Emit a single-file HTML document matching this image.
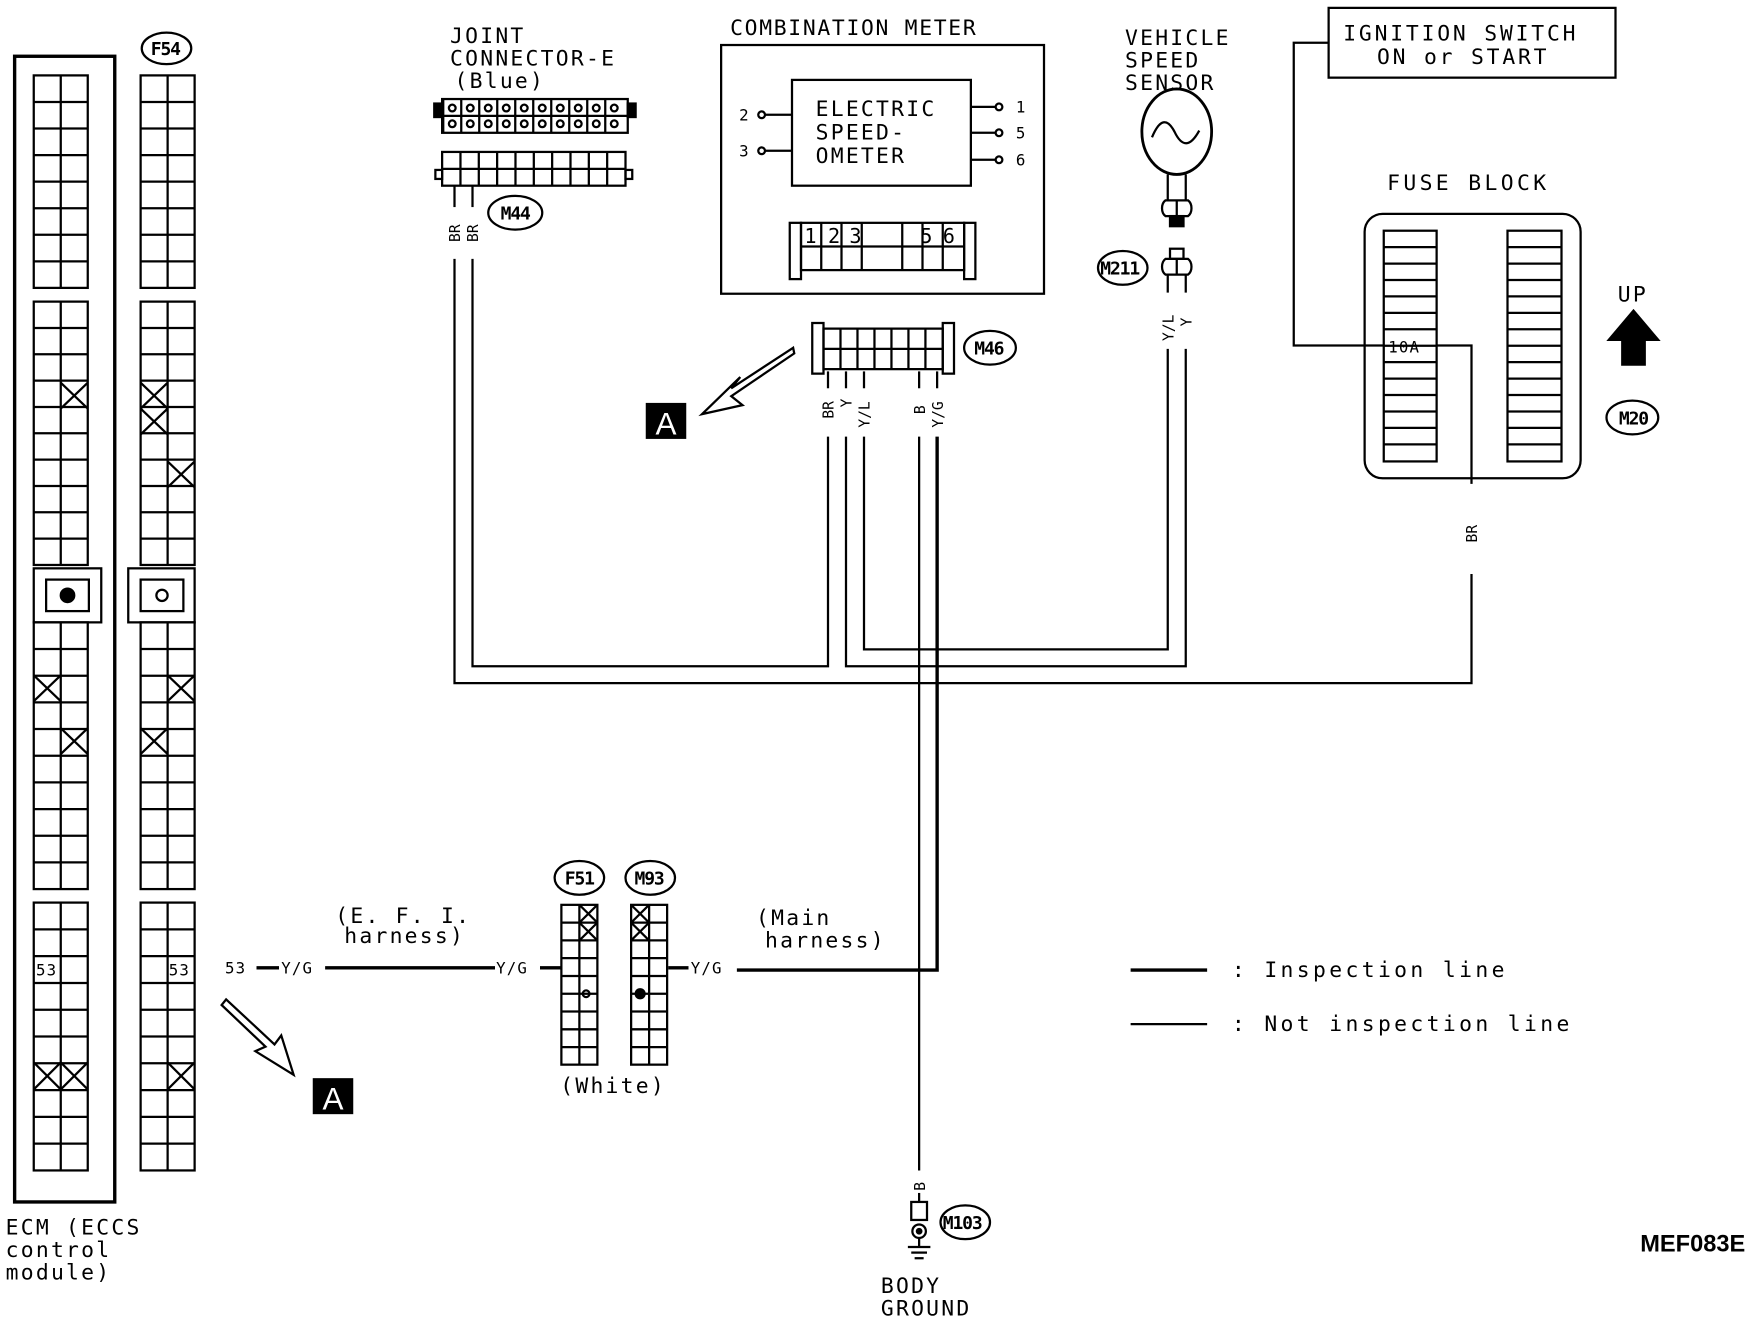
<!DOCTYPE html>
<html><head><meta charset="utf-8">
<style>
html,body{margin:0;padding:0;background:#fff;}
svg{display:block;}
text{font-family:"DejaVu Sans Mono","Liberation Mono",monospace;fill:#000;}
</style></head>
<body>
<svg id="s" width="1764" height="1328" viewBox="0 0 1568 1180" preserveAspectRatio="none" xmlns="http://www.w3.org/2000/svg">
<rect x="0" y="0" width="1568" height="1180" fill="#fff"/>
<g id="g" stroke="#000" fill="none" stroke-width="2">
<rect x="13" y="50" width="89" height="1018" stroke-width="3"/>
<rect x="30" y="505" width="60" height="48" fill="#fff"/>
<rect x="41" y="515" width="38" height="28"/>
<circle cx="60" cy="529" r="6" fill="#000"/>
<rect x="114" y="505" width="59" height="48" fill="#fff"/>
<rect x="125" y="515" width="38" height="28"/>
<circle cx="144" cy="529" r="5"/>
<ellipse cx="148" cy="43" rx="22" ry="14"/>

<rect x="393" y="88" width="165" height="30" stroke-width="2"/>
<rect x="386" y="92" width="7" height="12" fill="#000"/>
<rect x="558" y="92" width="7" height="12" fill="#000"/>
<rect x="393" y="135" width="163" height="30"/>
<line x1="393" y1="150" x2="556" y2="150"/>
<rect x="387" y="151" width="6" height="8"/><rect x="556" y="151" width="6" height="8"/>
<ellipse cx="458" cy="189" rx="24" ry="15"/>
<line x1="404" y1="165" x2="404" y2="184"/><line x1="420" y1="165" x2="420" y2="184"/>

<rect x="641" y="40" width="287" height="221"/>
<rect x="704" y="71" width="159" height="94"/>
<line x1="680" y1="102" x2="704" y2="102"/><circle cx="677" cy="102" r="3"/>
<line x1="680" y1="134" x2="704" y2="134"/><circle cx="677" cy="134" r="3"/>
<line x1="863" y1="95" x2="885" y2="95"/><circle cx="888" cy="95" r="3"/>
<line x1="863" y1="118" x2="885" y2="118"/><circle cx="888" cy="118" r="3"/>
<line x1="863" y1="142" x2="885" y2="142"/><circle cx="888" cy="142" r="3"/>
<rect x="702" y="198" width="10" height="50"/><rect x="857" y="198" width="10" height="50"/>
<rect x="712" y="198" width="145" height="42"/>
<line x1="712" y1="219" x2="857" y2="219"/>

<rect x="722" y="287" width="10" height="45"/><rect x="838" y="287" width="10" height="45"/>
<rect x="732" y="292" width="106" height="36"/>
<line x1="732" y1="310" x2="838" y2="310"/>
<ellipse cx="880" cy="309" rx="23" ry="15"/>

<ellipse cx="1046" cy="117" rx="31" ry="38" stroke-width="2.5"/>
<path d="M1024 122 Q1034 98 1044 117 Q1054 138 1066 116"/>
<line x1="1038" y1="155" x2="1038" y2="178"/><line x1="1054" y1="155" x2="1054" y2="178"/>
<path d="M1036 178 h20 a6 8 0 0 1 0 14 h-20 a6 8 0 0 1 0 -14 Z"/>
<rect x="1040" y="192" width="12" height="9" fill="#000"/>
<rect x="1040" y="221" width="12" height="9"/>
<path d="M1036 230 h20 a6 8 0 0 1 0 14 h-20 a6 8 0 0 1 0 -14 Z"/>
<line x1="1046" y1="230" x2="1046" y2="244"/>
<line x1="1046" y1="178" x2="1046" y2="192"/>
<ellipse cx="998" cy="238" rx="22" ry="15"/>
<line x1="1038" y1="244" x2="1038" y2="260"/><line x1="1054" y1="244" x2="1054" y2="260"/>

<rect x="1181" y="7" width="255" height="62"/>
<polyline points="1181,38 1150,38 1150,307 1230,307"/>

<rect x="1213" y="190" width="192" height="235" rx="16"/>
<rect x="1230" y="205" width="47" height="205"/>
<rect x="1340" y="205" width="48" height="205"/>
<polyline points="1277,307 1308,307 1308,430"/>
<ellipse cx="1451" cy="371" rx="23" ry="15"/>
<polygon points="1452,276 1474,302 1462,302 1462,324 1442,324 1442,302 1430,302" fill="#000"/>

<polyline points="404,230 404,607 1308,607 1308,510"/>
<polyline points="420,230 420,592 736,592 736,388"/>
<polyline points="752,388 752,592 1054,592 1054,310"/>
<polyline points="768,388 768,577 1038,577 1038,310"/>
<line x1="736" y1="330" x2="736" y2="345"/><line x1="752" y1="330" x2="752" y2="345"/><line x1="768" y1="330" x2="768" y2="345"/>
<line x1="817" y1="330" x2="817" y2="345"/><line x1="833" y1="330" x2="833" y2="345"/>
<line x1="817" y1="388" x2="817" y2="1040"/>
<polyline points="833,388 833,862 655,862" stroke-width="3"/>
<line x1="289" y1="860" x2="440" y2="860" stroke-width="3"/>
<line x1="228" y1="860" x2="248" y2="860" stroke-width="3"/>
<line x1="480" y1="860" x2="499" y2="860" stroke-width="3"/>
<line x1="594" y1="860" x2="612" y2="860" stroke-width="3"/>
<line x1="1005" y1="862" x2="1073" y2="862" stroke-width="3"/>
<line x1="1005" y1="910" x2="1073" y2="910"/>

<rect x="499" y="804" width="32" height="142"/>
<rect x="561" y="804" width="32" height="142"/>
<ellipse cx="515" cy="780" rx="22" ry="15"/>
<ellipse cx="578" cy="780" rx="22" ry="15"/>
<circle cx="521" cy="883" r="3"/>
<circle cx="569" cy="883" r="4" fill="#000"/>

<line x1="817" y1="1060" x2="817" y2="1068"/>
<rect x="810" y="1068" width="14" height="16"/>
<circle cx="817" cy="1094" r="6"/><circle cx="817" cy="1094" r="2" fill="#000"/>
<line x1="817" y1="1100" x2="817" y2="1108"/>
<line x1="807" y1="1108" x2="827" y2="1108"/><line x1="810" y1="1113" x2="824" y2="1113"/><line x1="813" y1="1118" x2="821" y2="1118"/>
<ellipse cx="858" cy="1086" rx="22" ry="15"/>

<polygon points="705,309 650,345 658,335 624,368 660,360 650,352 706,314" />
<polygon points="197,893 236,930 227,934 261,955 250,920 244,928 201,888"/>
</g>
<rect x="574" y="358" width="36" height="32" fill="#000"/>
<text x="592" y="386" font-size="28" text-anchor="middle" style="fill:#fff;font-family:'Liberation Sans',sans-serif">A</text>
<rect x="278" y="958" width="36" height="32" fill="#000"/>
<text x="296" y="986" font-size="28" text-anchor="middle" style="fill:#fff;font-family:'Liberation Sans',sans-serif">A</text>

<g font-size="19" letter-spacing="2">
<text x="400" y="38">JOINT</text>
<text x="400" y="58">CONNECTOR-E</text>
<text x="404" y="78">(Blue)</text>
<text x="649" y="31" letter-spacing="1.5">COMBINATION METER</text>
<text x="725" y="103">ELECTRIC</text>
<text x="725" y="124">SPEED-</text>
<text x="725" y="145">OMETER</text>
<text x="1000" y="40">VEHICLE</text>
<text x="1000" y="60">SPEED</text>
<text x="1000" y="80">SENSOR</text>
<text x="1194" y="36" letter-spacing="2.5">IGNITION SWITCH</text>
<text x="1224" y="57" letter-spacing="2.5">ON or START</text>
<text x="1233" y="169" letter-spacing="3">FUSE BLOCK</text>
<text x="1438" y="268">UP</text>
<text x="298" y="820">(E. F. I.</text>
<text x="306" y="838">harness)</text>
<text x="672" y="822">(Main</text>
<text x="680" y="842">harness)</text>
<text x="498" y="971">(White)</text>
<text x="783" y="1149">BODY</text>
<text x="783" y="1169">GROUND</text>
<text x="5" y="1097">ECM (ECCS</text>
<text x="5" y="1117">control</text>
<text x="5" y="1137">module)</text>
<text x="1095" y="868" letter-spacing="3">:  Inspection line</text>
<text x="1095" y="916" letter-spacing="3">:  Not inspection line</text>
</g>
<g font-size="14" letter-spacing="1">
<text x="200" y="865">53</text><text x="250" y="865">Y/G</text>
<text x="441" y="865">Y/G</text>
<text x="614" y="865">Y/G</text>
<text x="32" y="867">53</text><text x="150" y="867">53</text>
<text x="657" y="107">2</text><text x="657" y="139">3</text>
<text x="903" y="100">1</text><text x="903" y="123">5</text><text x="903" y="147">6</text>
<text x="715" y="216" font-size="18">1</text><text x="736" y="216" font-size="18">2</text><text x="755" y="216" font-size="18">3</text>
<text x="818" y="216" font-size="18">5</text><text x="838" y="216" font-size="18">6</text>
<text x="1234" y="313" font-size="14">10A</text>
</g>
<g font-size="16" font-weight="bold" letter-spacing="-1">
<text x="134" y="49">F54</text>
<text x="445" y="195">M44</text>
<text x="866" y="315">M46</text>
<text x="978" y="244">M211</text>
<text x="1439" y="377">M20</text>
<text x="502" y="786">F51</text>
<text x="564" y="786">M93</text>
<text x="838" y="1092">M103</text>
</g>
<g font-size="13">
<text transform="translate(409,215) rotate(-90)">BR</text>
<text transform="translate(425,215) rotate(-90)">BR</text>
<text transform="translate(741,372) rotate(-90)">BR</text>
<text transform="translate(757,362) rotate(-90)">Y</text>
<text transform="translate(773,380) rotate(-90)">Y/L</text>
<text transform="translate(822,368) rotate(-90)">B</text>
<text transform="translate(838,380) rotate(-90)">Y/G</text>
<text transform="translate(1043,303) rotate(-90)">Y/L</text>
<text transform="translate(1059,290) rotate(-90)">Y</text>
<text transform="translate(1313,482) rotate(-90)">BR</text>
<text transform="translate(822,1058) rotate(-90)">B</text>
</g>
<text x="1458" y="1112" font-size="21" style="font-family:'Liberation Sans',sans-serif;font-weight:bold">MEF083E</text>
</svg>
<script>
var g=document.getElementById('g'),NS='http://www.w3.org/2000/svg';
function L(a,b,c,d){var l=document.createElementNS(NS,'line');l.setAttribute('x1',a);l.setAttribute('y1',b);l.setAttribute('x2',c);l.setAttribute('y2',d);g.appendChild(l);}
function R(x,y,w,h){var r=document.createElementNS(NS,'rect');r.setAttribute('x',x);r.setAttribute('y',y);r.setAttribute('width',w);r.setAttribute('height',h);g.appendChild(r);}
function X(x,y,w,h){L(x,y,x+w,y+h);L(x+w,y,x,y+h);}
function grid(x,segs,cw,xs){segs.forEach(function(s){var y0=s[0],n=s[1],p=s[2];R(x,y0,cw*2,n*p);L(x+cw,y0,x+cw,y0+n*p);for(var i=1;i<n;i++)L(x,y0+i*p,x+cw*2,y0+i*p);});
 xs.forEach(function(c){X(x+c[0]*cw,c[1],cw,c[2]);});}
var segs=[[67,8,23.6],[268,10,23.4],[553,10,23.7],[802,10,23.8]];
grid(30,segs,24,[[1,340,23],[0,600,23],[1,647,23],[0,944,24],[1,944,24]]);
grid(125,segs,24,[[0,340,23],[0,363,23],[1,410,23],[1,600,23],[0,647,23],[1,944,24]]);
for(var i=1;i<7;i++)L(732+i*15.1,292,732+i*15.1,328);
[730,748,766,802,820,838].forEach(function(x){L(x,198,x,240);});
for(var i=0;i<10;i++){for(var j=0;j<2;j++){var c=document.createElementNS(NS,'circle');c.setAttribute('cx',402+i*16);c.setAttribute('cy',96+j*14);c.setAttribute('r',3);g.appendChild(c);}L(394+i*16,88,394+i*16,118);}
L(393,103,558,103);
for(var i=1;i<10;i++)L(393+i*16.3,135,393+i*16.3,165);
[499,561].forEach(function(x){L(x+16,804,x+16,946);for(var i=1;i<9;i++)L(x,804+i*15.8,x+32,804+i*15.8);});
X(515,804,16,15.8);X(515,819.8,16,15.8);X(561,804,16,15.8);X(561,819.8,16,15.8);
for(var i=1;i<14;i++){L(1230,205+i*14.6,1277,205+i*14.6);L(1340,205+i*14.6,1388,205+i*14.6);}
</script>
</body></html>
